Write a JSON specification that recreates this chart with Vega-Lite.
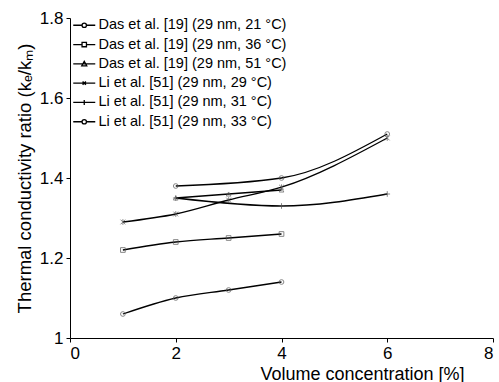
{
  "$schema": "https://vega.github.io/schema/vega-lite/v6.json",
  "width": 423,
  "height": 320,
  "autosize": "none",
  "padding": {"left": 70, "top": 18, "right": 6, "bottom": 44},
  "background": "white",
  "config": {
    "font": "Liberation Sans",
    "view": {"stroke": null},
    "axis": {"domainColor": "black", "tickColor": "black", "labelColor": "black", "titleColor": "black", "grid": false, "labelFont": "Liberation Sans", "titleFont": "Liberation Sans", "titleFontWeight": "normal"}
  },
  "data": {"values": [
    {"series": "Das et al. [19] (29 nm, 21 °C)", "x": 1, "y": 1.06},
    {"series": "Das et al. [19] (29 nm, 21 °C)", "x": 2, "y": 1.10},
    {"series": "Das et al. [19] (29 nm, 21 °C)", "x": 3, "y": 1.12},
    {"series": "Das et al. [19] (29 nm, 21 °C)", "x": 4, "y": 1.14},
    {"series": "Das et al. [19] (29 nm, 36 °C)", "x": 1, "y": 1.22},
    {"series": "Das et al. [19] (29 nm, 36 °C)", "x": 2, "y": 1.24},
    {"series": "Das et al. [19] (29 nm, 36 °C)", "x": 3, "y": 1.25},
    {"series": "Das et al. [19] (29 nm, 36 °C)", "x": 4, "y": 1.26},
    {"series": "Das et al. [19] (29 nm, 51 °C)", "x": 2, "y": 1.35},
    {"series": "Das et al. [19] (29 nm, 51 °C)", "x": 3, "y": 1.36},
    {"series": "Das et al. [19] (29 nm, 51 °C)", "x": 4, "y": 1.37},
    {"series": "Li et al. [51] (29 nm, 29 °C)", "x": 1, "y": 1.29},
    {"series": "Li et al. [51] (29 nm, 29 °C)", "x": 2, "y": 1.31},
    {"series": "Li et al. [51] (29 nm, 29 °C)", "x": 3, "y": 1.345},
    {"series": "Li et al. [51] (29 nm, 29 °C)", "x": 4, "y": 1.377},
    {"series": "Li et al. [51] (29 nm, 29 °C)", "x": 6, "y": 1.50},
    {"series": "Li et al. [51] (29 nm, 31 °C)", "x": 2, "y": 1.35},
    {"series": "Li et al. [51] (29 nm, 31 °C)", "x": 4, "y": 1.33},
    {"series": "Li et al. [51] (29 nm, 31 °C)", "x": 6, "y": 1.36},
    {"series": "Li et al. [51] (29 nm, 33 °C)", "x": 2, "y": 1.38},
    {"series": "Li et al. [51] (29 nm, 33 °C)", "x": 4, "y": 1.40},
    {"series": "Li et al. [51] (29 nm, 33 °C)", "x": 6, "y": 1.51}
  ]},
  "encoding": {
    "x": {"field": "x", "type": "quantitative", "scale": {"domain": [0, 8], "nice": false},
      "axis": {"values": [0, 2, 4, 6, 8], "title": "Volume concentration [%]", "labelFontSize": 17, "titleFontSize": 18, "tickSize": 4, "labelPadding": 3, "titleAnchor": "start", "titleAlign": "left", "titleX": 190, "titleY": 41, "titleBaseline": "alphabetic"}},
    "y": {"field": "y", "type": "quantitative", "scale": {"domain": [1, 1.8], "nice": false, "zero": false},
      "axis": {"values": [1, 1.2, 1.4, 1.6, 1.8], "labelExpr": "datum.value == 1 ? '1' : format(datum.value, '.1f')", "title": "Thermal conductivity ratio (kₑ/kₘ)", "labelFontSize": 17, "titleFontSize": 18.5, "tickSize": 4, "labelPadding": 3, "titlePadding": 5}}
  },
  "layer": [
    {
      "mark": {"type": "line", "interpolate": "monotone", "color": "black", "strokeWidth": 1.3},
      "encoding": {"detail": {"field": "series"}}
    },
    {
      "mark": {"type": "point", "filled": false, "stroke": "#555", "strokeWidth": 1, "size": 22},
      "encoding": {
        "shape": {"field": "series", "type": "nominal", "legend": null,
          "scale": {"domain": ["Das et al. [19] (29 nm, 21 °C)", "Das et al. [19] (29 nm, 36 °C)", "Das et al. [19] (29 nm, 51 °C)", "Li et al. [51] (29 nm, 29 °C)", "Li et al. [51] (29 nm, 31 °C)", "Li et al. [51] (29 nm, 33 °C)"],
            "range": ["circle", "square", "triangle-up", "M-1,-1L1,1M-1,1L1,-1M0,-1.2V1.2", "M0,-1.2V1.2M-1.2,0H1.2", "circle"]}}
      }
    },
    {
      "mark": {"type": "point", "filled": false, "opacity": 0},
      "encoding": {
        "shape": {"field": "series", "type": "nominal",
          "scale": {"domain": ["Das et al. [19] (29 nm, 21 °C)", "Das et al. [19] (29 nm, 36 °C)", "Das et al. [19] (29 nm, 51 °C)", "Li et al. [51] (29 nm, 29 °C)", "Li et al. [51] (29 nm, 31 °C)", "Li et al. [51] (29 nm, 33 °C)"],
            "range": [
              "M-2,0H-0.4M0.4,0H2M0.4,0A0.4,0.4,0,1,1,-0.4,0A0.4,0.4,0,1,1,0.4,0Z",
              "M-2,0H-0.4M0.4,0H2M-0.4,-0.4H0.4V0.4H-0.4Z",
              "M-2,0H2M0,-0.45L0.45,0.35H-0.45Z",
              "M-2,0H2M-0.3,-0.3L0.3,0.3M-0.3,0.3L0.3,-0.3",
              "M-2,0H2M0,-0.45V0.45",
              "M-2,0H-0.4M0.4,0H2M0.4,0A0.4,0.4,0,1,1,-0.4,0A0.4,0.4,0,1,1,0.4,0Z"
            ]},
          "legend": {"orient": "none", "legendX": 7, "legendY": 0, "title": null, "padding": 0, "symbolSize": 121, "symbolOpacity": 1, "symbolStrokeColor": "black", "symbolFillColor": "transparent", "symbolStrokeWidth": 1.3, "labelOffset": 7, "labelFontSize": 14.5, "labelFont": "Liberation Sans", "labelColor": "black", "rowPadding": 4.3, "labelLimit": 400}}
      }
    }
  ],
  "resolve": {"scale": {"shape": "independent"}, "legend": {"shape": "independent"}}
}
